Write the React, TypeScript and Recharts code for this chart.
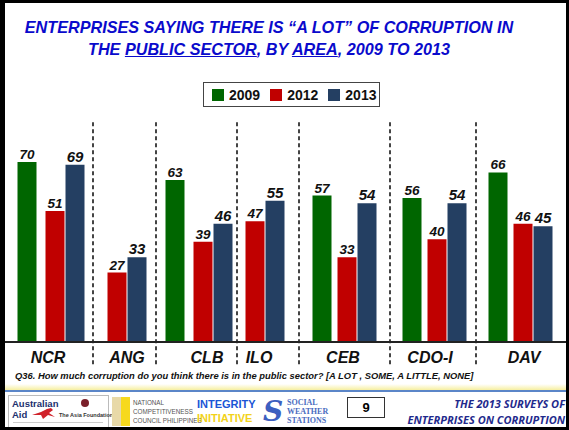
import React from 'react'
import { BarChart, Bar, XAxis, YAxis, LabelList, ReferenceLine, Legend } from 'recharts'

const AREAS = ['NCR', 'ANG', 'CLB', 'ILO', 'CEB', 'CDO-I', 'DAV']
const Y2009 = [70, null, 63, null, 57, 56, 66]
const Y2012 = [51, 27, 39, 47, 33, 40, 46]
const Y2013 = [69, 33, 46, 55, 54, 54, 45]

const SERIES = [
  { key: 'y2009', name: '2009', values: Y2009, color: '#006600', size: 13.5 },
  { key: 'y2012', name: '2012', values: Y2012, color: '#C00000', size: 13.5 },
  { key: 'y2013', name: '2013', values: Y2013, color: '#243F62', size: 15 },
]

// slide layout (pixels): left edge of each bar, area label centers, dashed dividers
const BAR_LEFT = [
  [18, null, 166, null, 313, 403, 489],
  [46, 108, 194, 246, 338, 428, 514],
  [66, 128, 214, 266, 358, 448, 534],
]
const LABEL_X = [48, 127, 207, 259, 343, 430, 524]
const DIVIDERS = [93, 156, 237, 299, 390, 476]
const BAR_W = 19
const LEGEND_H = 25

const rows: Record<string, number>[] = []
AREAS.forEach((_, i) => {
  SERIES.forEach((s, j) => {
    const v = s.values[i]
    const left = BAR_LEFT[j][i]
    if (v == null || left == null) return
    rows.push({ x: left + BAR_W / 2, [s.key]: v })
  })
})

const FONT = '"Liberation Sans", Arial, sans-serif'
const boldItalic = { fontFamily: FONT, fontWeight: 'bold', fontStyle: 'italic' } as const

const AreaTick = (props: any) => {
  const { x, y, payload } = props
  const name = AREAS[LABEL_X.indexOf(payload.value)]
  return (
    <text x={x} y={y + 13} textAnchor="middle" fill="#111" style={{ ...boldItalic, fontSize: 16 }}>
      {name}
    </text>
  )
}

const valueLabel = (size: number) => (props: any) => {
  const { x, y, width, value } = props
  if (value == null) return null
  return (
    <text x={x + width / 2} y={y - 3} textAnchor="middle" fill="#111" style={{ ...boldItalic, fontSize: size }}>
      {value}
    </text>
  )
}

const LegendBox = (props: any) => {
  const { payload } = props
  return (
    <div style={{
      boxSizing: 'border-box', width: 177, height: LEGEND_H,
      border: '1px solid #444', display: 'flex', alignItems: 'center',
      fontFamily: FONT, fontWeight: 'bold', fontSize: 14, color: '#111',
    }}>
      {(payload || []).map((p: any, i: number) => (
        <div key={i} style={{ display: 'flex', alignItems: 'center', marginLeft: i === 0 ? 8 : 10 }}>
          <span style={{ width: 12, height: 12, background: p.color, display: 'inline-block', marginRight: 5 }} />
          <span>{p.value}</span>
        </div>
      ))}
    </div>
  )
}

export default function App() {
  return (
    <div style={{ position: 'absolute', left: 0, top: 0, width: 569, height: 430, background: '#fff', overflow: 'hidden' }}>
      <div style={{
        position: 'absolute', left: 0, top: 16, width: 538, textAlign: 'center',
        fontFamily: FONT, fontWeight: 'bold', fontStyle: 'italic', fontSize: 16.2,
        lineHeight: '22px', color: '#0A0ACC',
      }}>
        ENTERPRISES SAYING THERE IS “A LOT” OF CORRUPTION IN<br />
        THE <u>PUBLIC SECTOR</u>, BY <u>AREA</u>, 2009 TO 2013
      </div>

      <div style={{ position: 'absolute', left: 0, top: 0 }}>
        {/* the legend reserves its own height above the plot, so the top margin is reduced by it */}
        <BarChart width={569} height={430} data={rows} margin={{ top: 85 - LEGEND_H, right: 0, bottom: 0, left: 0 }}>
          <XAxis dataKey="x" type="number" domain={[0, 569]} allowDataOverflow
            ticks={LABEL_X} interval={0} tickLine={false} height={88}
            axisLine={{ stroke: '#222', strokeWidth: 2 }} tick={<AreaTick />} />
          <YAxis hide domain={[0, 100]} allowDataOverflow />
          <Legend content={<LegendBox />} verticalAlign="top"
            wrapperStyle={{ left: 203, top: 82, width: 177, height: LEGEND_H }} />
          {DIVIDERS.map((d) => (
            <ReferenceLine key={d} segment={[{ x: d, y: 85.5 }, { x: d, y: -8.9 }]}
              ifOverflow="visible" stroke="#444" strokeWidth={2} strokeDasharray="4 3" />
          ))}
          {SERIES.map((s) => (
            <Bar key={s.key} dataKey={s.key} name={s.name} stackId="a" fill={s.color}
              barSize={BAR_W} legendType="square" isAnimationActive={false}>
              <LabelList dataKey={s.key} content={valueLabel(s.size)} />
            </Bar>
          ))}
        </BarChart>
      </div>

      <div style={{
        position: 'absolute', left: 15, top: 370, fontFamily: FONT, fontWeight: 'bold',
        fontStyle: 'italic', fontSize: 9.4, color: '#111', whiteSpace: 'nowrap',
      }}>
        Q36. How much corruption do you think there is in the public sector? [A LOT , SOME, A LITTLE, NONE]
      </div>

      <div style={{ position: 'absolute', left: 0, top: 384, width: 569, height: 6, background: 'linear-gradient(#fff, #f6efa0)' }} />
      <div style={{ position: 'absolute', left: 0, top: 390, width: 569, height: 2, background: '#5b86c8' }} />

      <div style={{ position: 'absolute', left: 8, top: 395, width: 99, height: 31, border: '1px solid #bbb', fontFamily: FONT }}>
        <div style={{ position: 'absolute', left: 3, top: 2, fontSize: 9.5, fontWeight: 'bold', color: '#1b2f6e', lineHeight: '11px' }}>
          Australian<br />Aid
        </div>
        <svg style={{ position: 'absolute', left: 22, top: 11 }} width={28} height={13}>
          <path d="M1 8 L10 5 L16 2 L20 1 L22 3 L18 6 L24 10 L17 8 L12 12 L10 8 Z" fill="#d0222a" />
        </svg>
        <div style={{ position: 'absolute', left: 72, top: 3, width: 8, height: 8, borderRadius: 4, background: '#7a1f2a' }} />
        <div style={{ position: 'absolute', left: 50, top: 16, fontSize: 5.5, fontWeight: 'bold', color: '#333', whiteSpace: 'nowrap' }}>The Asia Foundation</div>
        <div style={{ position: 'absolute', left: 4, top: 26, width: 90, height: 1, background: '#ccc' }} />
      </div>

      <div style={{ position: 'absolute', left: 112, top: 397, width: 18, height: 29, background: 'linear-gradient(90deg, #e8d9a8 50%, #f7d91c 50%)' }} />
      <div style={{ position: 'absolute', left: 133, top: 398, fontFamily: FONT, fontSize: 6.3, lineHeight: '9px', color: '#555', whiteSpace: 'nowrap' }}>
        NATIONAL<br />COMPETITIVENESS<br />COUNCIL PHILIPPINES
      </div>

      <div style={{ position: 'absolute', left: 197, top: 397, fontFamily: FONT, fontWeight: 'bold', fontSize: 11, lineHeight: '14px' }}>
        <div style={{ color: '#1a55d6' }}>INTEGRITY</div>
        <div style={{ color: '#f2d21a' }}>INITIATIVE</div>
      </div>

      <div style={{ position: 'absolute', left: 263, top: 398, width: 22, height: 27, fontFamily: '"DejaVu Serif", serif', fontWeight: 'bold', fontStyle: 'italic', fontSize: 28, lineHeight: '27px', color: '#3d5fc0' }}>S</div>
      <div style={{ position: 'absolute', left: 287, top: 398, fontFamily: '"Liberation Serif", serif', fontWeight: 'bold', fontSize: 8, lineHeight: '9px', color: '#4a6cc0' }}>
        SOCIAL<br />WEATHER<br />STATIONS
      </div>

      <div style={{
        position: 'absolute', left: 347, top: 397, width: 36, height: 19, border: '1px solid #333',
        textAlign: 'center', fontFamily: FONT, fontWeight: 'bold', fontSize: 13, lineHeight: '19px',
      }}>9</div>

      <div style={{
        position: 'absolute', right: 4, top: 396, textAlign: 'right', fontFamily: '"Open Sans", sans-serif',
        fontWeight: 'bold', fontStyle: 'italic', fontSize: 11, lineHeight: '16px', color: '#1f2a8c', whiteSpace: 'nowrap',
      }}>
        THE 2013 SURVEYS OF<br />ENTERPRISES ON CORRUPTION
      </div>

      <div style={{ position: 'absolute', left: 0, top: 0, width: 569, height: 430, boxSizing: 'border-box', border: '3px solid #000', borderLeftWidth: 5, pointerEvents: 'none' }} />
    </div>
  )
}
